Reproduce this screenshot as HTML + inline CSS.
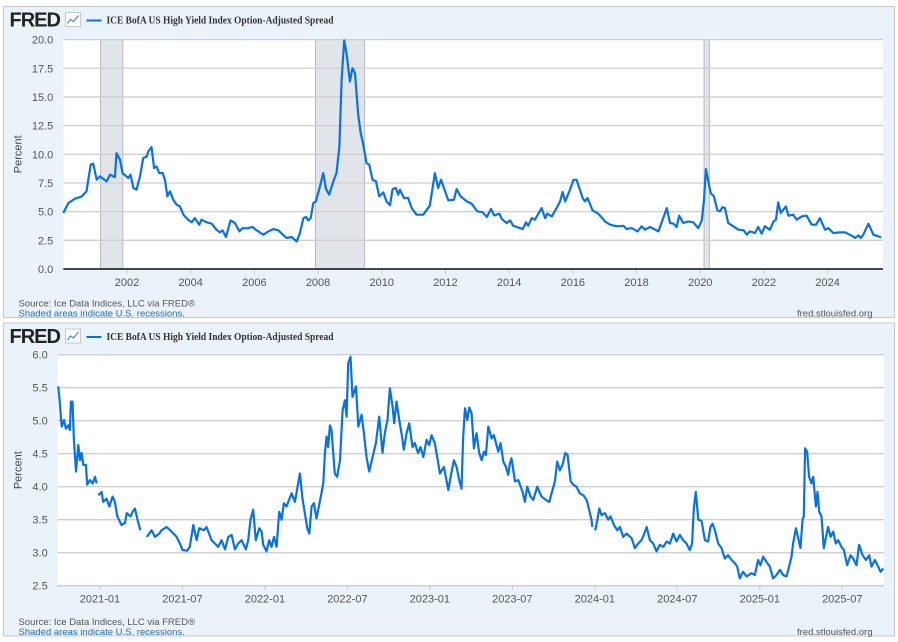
<!DOCTYPE html>
<html><head><meta charset="utf-8">
<style>
body{margin:0;background:#fff;width:898px;height:642px;overflow:hidden;font-family:"Liberation Sans",sans-serif}
svg{display:block}
</style></head>
<body>
<svg id="chart" width="898" height="642" xmlns="http://www.w3.org/2000/svg"></svg>
<script>
// ---- top chart data (decimal year, percent) ----
const topDates=[2000.00,2000.16,2000.37,2000.58,2000.73,2000.86,2000.94,2001.05,2001.15,2001.36,2001.47,2001.62,2001.67,2001.78,2001.86,2002.04,2002.11,2002.20,2002.30,2002.41,2002.51,2002.62,2002.67,2002.77,2002.85,2002.93,2003.01,2003.12,2003.19,2003.27,2003.35,2003.45,2003.56,2003.66,2003.77,2003.92,2004.03,2004.13,2004.27,2004.34,2004.50,2004.66,2004.81,2004.92,2005.00,2005.11,2005.25,2005.39,2005.53,2005.63,2005.76,2005.94,2006.07,2006.28,2006.44,2006.59,2006.75,2007.01,2007.17,2007.33,2007.43,2007.54,2007.62,2007.69,2007.77,2007.85,2007.93,2008.04,2008.16,2008.25,2008.35,2008.48,2008.58,2008.67,2008.74,2008.82,2008.90,2009.00,2009.08,2009.16,2009.26,2009.34,2009.42,2009.52,2009.61,2009.71,2009.82,2009.92,2010.05,2010.15,2010.26,2010.34,2010.44,2010.52,2010.57,2010.70,2010.83,2010.94,2011.09,2011.30,2011.51,2011.67,2011.77,2011.86,2012.09,2012.27,2012.35,2012.48,2012.67,2012.82,2013.00,2013.17,2013.30,2013.43,2013.53,2013.69,2013.77,2013.92,2014.03,2014.13,2014.43,2014.53,2014.60,2014.71,2014.81,2015.02,2015.13,2015.20,2015.34,2015.49,2015.60,2015.68,2015.76,2015.91,2016.02,2016.12,2016.31,2016.38,2016.46,2016.62,2016.80,2017.01,2017.17,2017.38,2017.59,2017.69,2017.85,2018.03,2018.16,2018.27,2018.42,2018.69,2018.82,2018.95,2019.05,2019.16,2019.26,2019.34,2019.47,2019.63,2019.78,2019.94,2020.05,2020.12,2020.18,2020.33,2020.43,2020.54,2020.62,2020.70,2020.78,2020.88,2021.04,2021.20,2021.37,2021.46,2021.56,2021.72,2021.82,2021.93,2022.03,2022.19,2022.30,2022.38,2022.45,2022.53,2022.69,2022.77,2022.92,2023.03,2023.19,2023.34,2023.50,2023.64,2023.76,2023.92,2024.02,2024.18,2024.39,2024.55,2024.76,2024.86,2024.97,2025.04,2025.12,2025.28,2025.44,2025.68];
const topValues=[4.88,5.75,6.13,6.33,6.77,9.09,9.18,7.78,8.07,7.64,8.22,8.01,10.1,9.52,8.36,7.93,8.22,7.06,6.91,8.07,9.67,9.81,10.25,10.63,8.80,8.94,8.36,8.36,7.78,6.33,6.77,6.04,5.6,5.46,4.73,4.30,4.07,4.44,3.86,4.30,4.07,3.95,3.43,3.19,3.37,2.79,4.24,4.01,3.28,3.57,3.54,3.66,3.37,2.99,3.28,3.48,3.37,2.70,2.79,2.41,3.14,4.44,4.53,4.24,4.44,5.75,5.89,6.97,8.36,6.97,6.48,7.64,8.36,10.68,16.49,19.92,18.67,16.35,17.51,17.07,13.44,11.85,10.83,9.23,9.09,7.78,7.64,6.33,6.68,5.89,5.55,6.97,7.06,6.48,6.91,6.18,6.18,5.31,4.73,4.73,5.52,8.36,7.06,7.78,5.98,6.04,6.97,6.33,5.89,5.69,5.02,4.94,4.53,5.23,4.67,4.82,4.36,4.01,4.24,3.77,3.48,4.07,3.77,4.44,4.30,5.31,4.44,4.82,4.59,5.31,5.89,6.71,5.89,6.91,7.78,7.78,6.18,5.89,6.18,5.11,4.82,4.15,3.86,3.72,3.77,3.48,3.57,3.28,3.72,3.43,3.66,3.28,4.30,5.31,4.01,3.95,3.66,4.65,4.01,4.15,4.07,3.57,4.24,6.04,8.71,6.62,6.33,5.11,5.02,5.40,5.31,4.01,3.72,3.43,3.37,2.99,3.28,3.14,3.66,3.08,3.72,3.43,4.15,4.30,5.81,4.88,5.46,4.65,4.73,4.30,4.59,4.65,3.86,3.86,4.44,3.43,3.57,3.14,3.19,3.19,2.90,2.70,2.93,2.70,2.99,3.95,2.99,2.76];
const topYTicks=[0,2.5,5,7.5,10,12.5,15,17.5,20];
const topXTicks=[2002,2004,2006,2008,2010,2012,2014,2016,2018,2020,2022,2024];
const recessionStarts=[2001.17,2007.92,2020.12];
const recessionEnds=[2001.87,2009.46,2020.29];
// ---- bottom chart data ----
const botDates=[2020.747,2020.754,2020.768,2020.782,2020.794,2020.808,2020.818,2020.824,2020.834,2020.842,2020.855,2020.869,2020.879,2020.889,2020.899,2020.915,2020.923,2020.939,2020.956,2020.970,2020.980,2020.985,2020.990,2021.010,2021.020,2021.040,2021.057,2021.077,2021.091,2021.105,2021.131,2021.152,2021.162,2021.186,2021.198,2021.212,2021.226,2021.245,2021.263,2021.283,2021.299,2021.313,2021.333,2021.360,2021.374,2021.404,2021.434,2021.465,2021.485,2021.501,2021.529,2021.545,2021.566,2021.586,2021.602,2021.630,2021.646,2021.677,2021.697,2021.717,2021.737,2021.758,2021.778,2021.798,2021.818,2021.838,2021.859,2021.885,2021.899,2021.913,2021.929,2021.945,2021.966,2021.980,2021.990,2022.010,2022.026,2022.040,2022.055,2022.071,2022.087,2022.101,2022.115,2022.131,2022.147,2022.162,2022.182,2022.198,2022.212,2022.228,2022.242,2022.257,2022.269,2022.283,2022.297,2022.313,2022.333,2022.354,2022.364,2022.374,2022.384,2022.394,2022.404,2022.424,2022.438,2022.455,2022.471,2022.485,2022.495,2022.505,2022.519,2022.531,2022.552,2022.566,2022.586,2022.600,2022.616,2022.632,2022.653,2022.673,2022.693,2022.713,2022.727,2022.743,2022.758,2022.774,2022.784,2022.798,2022.818,2022.828,2022.842,2022.859,2022.875,2022.895,2022.909,2022.929,2022.943,2022.960,2022.980,2022.996,2023.010,2023.030,2023.051,2023.061,2023.085,2023.112,2023.132,2023.146,2023.162,2023.178,2023.192,2023.202,2023.213,2023.227,2023.239,2023.253,2023.267,2023.283,2023.299,2023.314,2023.328,2023.340,2023.354,2023.374,2023.388,2023.404,2023.415,2023.429,2023.445,2023.461,2023.475,2023.485,2023.495,2023.516,2023.536,2023.562,2023.576,2023.590,2023.610,2023.627,2023.651,2023.677,2023.703,2023.724,2023.738,2023.758,2023.772,2023.788,2023.804,2023.821,2023.835,2023.853,2023.869,2023.889,2023.909,2023.930,2023.950,2023.954,2023.980,2023.985,2023.990,2024.000,2024.006,2024.027,2024.041,2024.061,2024.081,2024.095,2024.116,2024.136,2024.152,2024.172,2024.192,2024.223,2024.243,2024.263,2024.283,2024.297,2024.314,2024.334,2024.354,2024.374,2024.394,2024.415,2024.435,2024.455,2024.475,2024.495,2024.516,2024.536,2024.556,2024.576,2024.590,2024.600,2024.612,2024.627,2024.647,2024.667,2024.687,2024.701,2024.714,2024.728,2024.748,2024.768,2024.788,2024.808,2024.829,2024.849,2024.863,2024.879,2024.899,2024.920,2024.950,2024.970,2024.990,2025.004,2025.021,2025.041,2025.061,2025.081,2025.101,2025.122,2025.142,2025.162,2025.178,2025.192,2025.202,2025.219,2025.233,2025.247,2025.259,2025.267,2025.275,2025.287,2025.299,2025.314,2025.324,2025.340,2025.350,2025.360,2025.374,2025.388,2025.400,2025.414,2025.429,2025.445,2025.461,2025.475,2025.495,2025.510,2025.530,2025.550,2025.566,2025.586,2025.602,2025.623,2025.643,2025.663,2025.677,2025.697,2025.718,2025.732,2025.748];
const botValues=[5.52,5.36,4.91,5.01,4.88,4.93,4.86,5.29,5.29,4.71,4.23,4.63,4.40,4.51,4.33,4.33,4.03,4.10,4.05,4.15,4.05,null,3.87,3.92,3.77,3.82,3.70,3.85,3.77,3.55,3.42,3.45,3.60,3.55,3.62,3.67,3.52,3.34,null,3.24,3.29,3.34,3.24,3.29,3.34,3.39,3.32,3.24,3.14,3.04,3.03,3.09,3.42,3.19,3.37,3.34,3.39,3.19,3.14,3.09,3.19,3.05,3.24,3.27,3.05,3.14,3.19,3.05,3.19,3.50,3.65,3.19,3.37,3.32,3.12,3.02,3.19,3.09,3.24,3.09,3.62,3.50,3.75,3.70,3.80,3.90,3.77,4.00,4.20,3.82,3.60,3.37,3.29,3.70,3.75,3.52,3.77,4.05,4.51,4.76,4.60,4.93,4.86,4.20,4.15,4.40,5.16,5.31,5.06,5.87,5.97,5.36,5.52,4.91,5.09,4.81,4.45,4.23,4.45,4.66,5.06,4.51,4.81,5.01,5.49,5.21,4.96,5.29,4.96,4.81,4.56,4.81,4.96,4.60,4.66,4.51,4.60,4.45,4.71,4.63,4.78,4.66,4.35,4.20,4.30,3.95,4.23,4.40,4.30,4.10,3.97,4.76,5.19,5.01,5.20,5.11,4.58,4.81,4.51,4.40,4.53,4.48,4.91,4.73,4.78,4.63,4.53,4.66,4.38,4.30,4.18,4.35,4.43,4.08,4.10,3.92,3.77,4.00,3.85,3.80,4.00,3.85,3.80,3.77,3.90,4.08,4.38,4.25,4.33,4.51,4.48,4.08,4.03,4.00,3.90,3.87,3.80,3.77,3.50,3.39,null,3.34,3.37,3.67,3.57,3.60,3.50,3.55,3.42,3.34,3.39,3.24,3.29,3.22,3.07,3.14,3.19,3.27,3.39,3.19,3.14,3.02,3.12,3.09,3.17,3.14,3.29,3.17,3.27,3.19,3.14,3.04,3.14,3.67,3.92,3.50,3.48,3.19,3.17,3.39,3.44,3.34,3.14,3.07,2.91,2.96,2.89,2.84,2.79,2.61,2.71,2.64,2.69,2.66,2.89,2.81,2.94,2.86,2.79,2.61,2.66,2.74,2.66,2.64,2.79,2.94,3.14,3.37,3.22,3.07,3.50,3.55,4.58,4.53,4.15,4.05,4.15,3.70,3.92,3.62,3.55,3.07,3.22,3.39,3.24,3.32,3.14,3.19,3.09,3.04,2.81,2.96,2.91,2.81,3.12,2.96,2.89,2.96,2.79,2.89,2.79,2.71,2.76,2.76];
const botYTicks=[2.5,3.0,3.5,4.0,4.5,5.0,5.5,6.0];
const botXTickDates=[2021,2021.5,2022,2022.5,2023,2023.5,2024,2024.5,2025,2025.5];
const botXTickLabels=["2021-01","2021-07","2022-01","2022-07","2023-01","2023-07","2024-01","2024-07","2025-01","2025-07"];

const NS="http://www.w3.org/2000/svg";
const svg=document.getElementById('chart');
function mk(tag,attrs,parent){const e=document.createElementNS(NS,tag);for(const k in attrs)e.setAttribute(k,attrs[k]);(parent||svg).appendChild(e);return e;}

function panel(cfg){
  const g=mk('g',{});
  
  
  const bg=mk('rect',{x:cfg.bx,y:cfg.by,width:cfg.bw,height:cfg.bh,fill:'#eaf2fa',stroke:'#c8c8c8','stroke-width':1},g);
  
  
  const X=t=>cfg.px0+(t-cfg.t0)*(cfg.px1-cfg.px0)/(cfg.t1-cfg.t0);
  const Y=v=>cfg.py1-(v-cfg.v0)*(cfg.py1-cfg.py0)/(cfg.v1-cfg.v0);
  const pa=mk('rect',{x:cfg.px0,y:cfg.py0,width:cfg.px1-cfg.px0,height:cfg.py1-cfg.py0,fill:'#fff'},g);
  
  
  (cfg.recS||[]).forEach((s,i)=>{
    const r=mk('rect',{x:X(s),y:cfg.py0,width:X(cfg.recE[i])-X(s),height:cfg.py1-cfg.py0,fill:'#e1e5ea',stroke:'#b8bcc0','stroke-width':1},g);
    
    
  });
  cfg.yTicks.forEach(v=>{
    const l=mk('line',{x1:cfg.px0,x2:cfg.px1,y1:Y(v),y2:Y(v),stroke:'#cfcfcf','stroke-width':1.3},g);
    
    
    const tx=mk('text',{x:cfg.px0-10,y:Y(v)+4,'text-anchor':'end','font-size':11,fill:'#555'},g);
    
    
    tx.textContent=v.toFixed(1);
  });
  cfg.xTicks.forEach((t,i)=>{
    const l=mk('line',{x1:X(t),x2:X(t),y1:cfg.py1,y2:cfg.py1+5,stroke:'#ccc','stroke-width':1},g);
    
    
    const tx=mk('text',{x:X(t),y:cfg.py1+17,'text-anchor':'middle','font-size':11,fill:'#555'},g);
    
    
    tx.textContent=cfg.xLabels[i];
  });
  const base=mk('line',{x1:cfg.px0,x2:cfg.px1,y1:cfg.py1,y2:cfg.py1,stroke:cfg.baseColor,'stroke-width':cfg.baseW},g);
  
  
  let d='',pen=false;
  cfg.dates.forEach((t,i)=>{const v=cfg.values[i];if(v===null){pen=false;return;}d+=(pen?'L':'M')+X(t).toFixed(1)+','+Y(v).toFixed(1);pen=true;});
  const p=mk('path',{d:d,fill:'none',stroke:'#0a72e0','stroke-width':2.2,'stroke-linejoin':'round'},g);
  
  
  const by=cfg.by;
  const f=mk('text',{x:cfg.bx+6,y:by+20,'font-size':20,'font-weight':'bold',fill:'#222','letter-spacing':'-1'},g);
  
  
  f.textContent='FRED';
  const ic=mk('g',{},g);
  
  
  mk('rect',{x:cfg.bx+62,y:by+6,width:15,height:14,fill:'#fff',stroke:'#bbb','stroke-width':0.8},ic);
  mk('path',{d:`M${cfg.bx+64},${by+17} l3,-4 l3,2 l5,-6`,fill:'none',stroke:'#4a8ad8','stroke-width':1.2},ic);
  const ll=mk('line',{x1:cfg.bx+83,x2:cfg.bx+98,y1:by+14,y2:by+14,stroke:'#0a72e0','stroke-width':2},g);
  
  
  const lt=mk('text',{x:cfg.bx+103,y:by+17,'font-size':10,'font-weight':'bold','font-family':'Liberation Serif, serif',fill:'#333',textLength:227,lengthAdjust:'spacingAndGlyphs'},g);
  
  
  lt.textContent='ICE BofA US High Yield Index Option-Adjusted Spread';
  const yt=mk('text',{x:0,y:0,'font-size':11,fill:'#444','text-anchor':'middle',transform:`translate(${cfg.bx+18},${(cfg.py0+cfg.py1)/2}) rotate(-90)`},g);
  
  
  yt.textContent='Percent';
  const s1=mk('text',{x:cfg.bx+15,y:cfg.by+cfg.bh-11,'font-size':9.5,fill:'#555'},g);
  
  
  s1.textContent='Source: Ice Data Indices, LLC via FRED®';
  const s2=mk('text',{x:cfg.bx+15,y:cfg.by+cfg.bh-1,'font-size':9.5,fill:'#2a6db5'},g);
  
  
  s2.textContent='Shaded areas indicate U.S. recessions.';
  const s3=mk('text',{x:cfg.bx+cfg.bw-22,y:cfg.by+cfg.bh-1,'font-size':9.5,fill:'#555','text-anchor':'end'},g);
  
  
  s3.textContent='fred.stlouisfed.org';
}
panel({name:'long-term-chart',bx:3.5,by:6.5,bw:891,bh:311,px0:63.3,px1:883,py0:39.6,py1:269,t0:2000,t1:2025.74,v0:0,v1:20,
  dates:topDates,values:topValues,yTicks:topYTicks,xTicks:topXTicks,xLabels:topXTicks.map(String),recS:recessionStarts,recE:recessionEnds,baseColor:'#111',baseW:1.5});
panel({name:'recent-chart',bx:3.5,by:323,bw:891,bh:313,px0:57.7,px1:884,py0:354.7,py1:585.7,t0:2020.744,t1:2025.753,v0:2.5,v1:6,
  dates:botDates,values:botValues,yTicks:botYTicks,xTicks:botXTickDates,xLabels:botXTickLabels,recS:[],recE:[],baseColor:'#cfcfcf',baseW:1.3});
</script>
</body></html>
